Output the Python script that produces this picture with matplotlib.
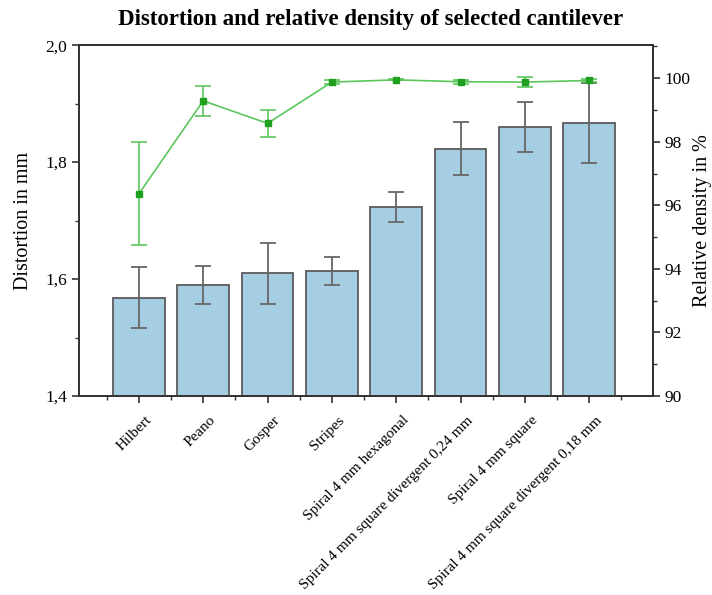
import numpy as np
import matplotlib
matplotlib.use("Agg")
import matplotlib.pyplot as plt
import matplotlib.transforms as mtransforms
from matplotlib.ticker import MultipleLocator, FuncFormatter

plt.rcParams['font.family'] = ['Liberation Serif', 'DejaVu Serif']

categories = ['Hilbert', 'Peano', 'Gosper', 'Stripes', 'Spiral 4 mm hexagonal',
              'Spiral 4 mm square divergent 0,24 mm', 'Spiral 4 mm square',
              'Spiral 4 mm square divergent 0,18 mm']
distortion = [1.568, 1.590, 1.610, 1.614, 1.723, 1.823, 1.860, 1.867]
distortion_err = [0.052, 0.033, 0.052, 0.024, 0.026, 0.045, 0.043, 0.068]
density = [96.36, 99.29, 98.58, 99.88, 99.95, 99.89, 99.88, 99.93]
density_err = [1.62, 0.48, 0.43, 0.05, 0.02, 0.07, 0.17, 0.06]

fig = plt.figure(figsize=(7.12, 5.95), dpi=100)
ax = fig.add_axes([0.111, 0.3345, 0.806, 0.5895])
x = np.arange(len(categories))

ax.bar(x, distortion, width=0.8, color='#a6cee3', edgecolor='#5a5a5a', linewidth=1.3, zorder=2)
ax.errorbar(x, distortion, yerr=distortion_err, fmt='none', ecolor='#666666',
            elinewidth=1.3, capsize=6, capthick=1.3, zorder=3)
ax.set_ylim(1.4, 2.0)
ax.set_xlim(-0.93, 7.99)
ax.yaxis.set_major_locator(MultipleLocator(0.2))
ax.yaxis.set_minor_locator(MultipleLocator(0.1))
ax.yaxis.set_major_formatter(FuncFormatter(lambda v, p: f'{v:.1f}'.replace('.', ',')))
ax.set_xticks(x)
ax.set_xticks(np.arange(-0.5, 8, 1), minor=True)
ax.set_ylabel('Distortion in mm', fontsize=14.5, labelpad=9)
ax.tick_params(axis='both', which='major', length=5, width=1.2, labelsize=12.5, color='#333333')
ax.tick_params(axis='both', which='minor', length=3, width=1.0, color='#333333')
ax.set_xticklabels(categories, rotation=45, ha='right', rotation_mode='anchor', fontsize=11)
for s in ax.spines.values():
    s.set_linewidth(1.3)
    s.set_color('#333333')

ax2 = ax.twinx()
ax2.errorbar(x, density, yerr=density_err, color='#5cc65c', marker='s', markersize=4,
             markerfacecolor='#1fa01f', markeredgecolor='#1fa01f', linewidth=1.2,
             ecolor='#5cc65c', elinewidth=1.2, capsize=6, capthick=1.2, zorder=4)
ax2.set_ylim(90, 101.04)
ax2.yaxis.set_major_locator(MultipleLocator(2))
ax2.yaxis.set_minor_locator(MultipleLocator(1))
ax2.set_ylabel('Relative density in %', fontsize=14.5, labelpad=2)
ax2.tick_params(axis='y', which='major', length=5, width=1.2, labelsize=12.5, color='#333333')
ax2.tick_params(axis='y', which='minor', length=3, width=1.0, color='#333333')
for s in ax2.spines.values():
    s.set_linewidth(1.3)
    s.set_color('#333333')

fig.suptitle('Distortion and relative density of selected cantilever', fontsize=16.5,
             fontweight='bold', x=0.52, y=0.985)

# shift the rotated labels a little right/down like the original
offset = mtransforms.ScaledTranslation(6 / 100, -6 / 100, fig.dpi_scale_trans)
for lab in ax.get_xticklabels():
    lab.set_transform(lab.get_transform() + offset)

fig.savefig('out.png', dpi=100)
